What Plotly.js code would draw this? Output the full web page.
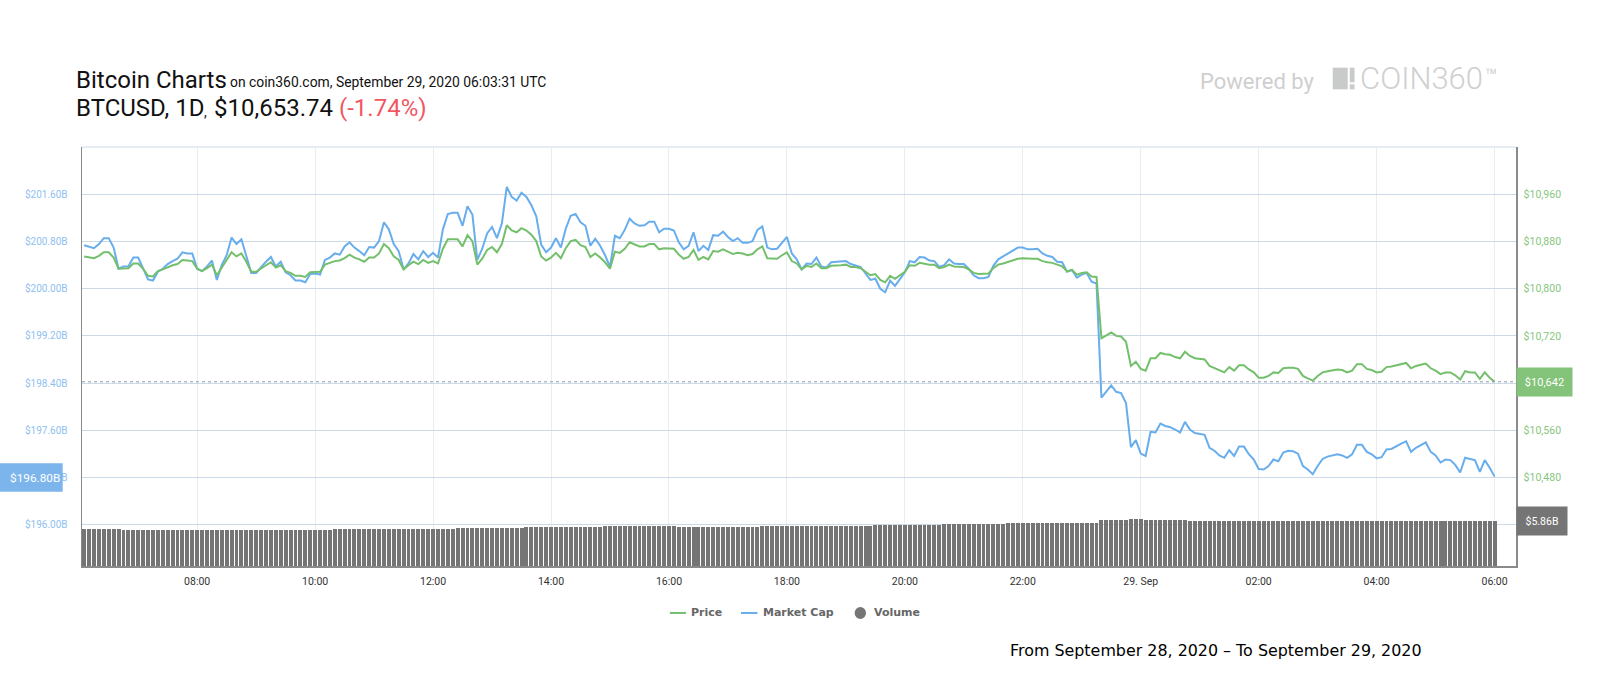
<!DOCTYPE html>
<html>
<head>
<meta charset="utf-8">
<script src="https://cdn.plot.ly/plotly-3.0.1.min.js"></script>
<style>html,body{margin:0;padding:0;background:#fff}#chart{width:1600px;height:700px}</style>
</head>
<body>
<div id="chart"></div>
<script>
const marketCap = [200.74,200.71,200.69,200.76,200.86,200.86,200.70,200.34,200.38,200.38,200.53,200.53,200.34,200.16,200.14,200.29,200.34,200.42,200.47,200.51,
200.62,200.60,200.60,200.34,200.30,200.38,200.48,200.15,200.40,200.57,200.87,200.76,200.84,200.57,200.27,200.27,200.37,200.46,200.54,200.38,
200.46,200.28,200.23,200.14,200.14,200.11,200.25,200.26,200.24,200.49,200.53,200.60,200.58,200.72,200.79,200.70,200.64,200.57,200.71,200.70,
200.81,201.13,201.01,200.76,200.64,200.33,200.43,200.59,200.50,200.64,200.54,200.61,200.53,201.01,201.27,201.29,201.29,201.07,201.40,201.26,
200.49,200.68,200.94,201.05,200.86,201.11,201.73,201.56,201.50,201.63,201.56,201.42,201.23,200.75,200.62,200.70,200.86,200.70,201.02,201.24,
201.27,201.13,201.07,200.73,200.85,200.73,200.57,200.37,200.90,200.86,201.00,201.19,201.11,201.07,201.08,201.14,201.14,200.96,201.02,201.02,
200.99,200.79,200.67,200.73,200.96,200.64,200.73,200.66,200.91,200.90,200.97,200.88,200.81,200.86,200.78,200.78,200.81,201.00,201.06,200.70,
200.67,200.68,200.78,200.88,200.60,200.50,200.33,200.43,200.42,200.53,200.38,200.36,200.45,200.46,200.47,200.47,200.42,200.40,200.37,200.26,
200.15,200.17,200.00,199.94,200.14,200.05,200.16,200.28,200.47,200.45,200.54,200.53,200.48,200.47,200.37,200.40,200.50,200.43,200.42,200.42,
200.34,200.23,200.18,200.18,200.20,200.39,200.50,200.55,200.61,200.66,200.70,200.70,200.67,200.67,200.68,200.60,200.56,200.54,200.46,200.45,
200.29,200.32,200.19,200.24,200.27,200.12,200.09,198.15,198.26,198.36,198.25,198.23,198.06,197.31,197.43,197.20,197.16,197.57,197.56,197.71,
197.67,197.65,197.61,197.56,197.74,197.61,197.55,197.53,197.52,197.30,197.25,197.17,197.13,197.26,197.16,197.32,197.32,197.19,197.10,196.94,
196.93,196.99,197.10,197.07,197.22,197.25,197.24,197.20,196.99,196.93,196.85,196.99,197.11,197.15,197.17,197.19,197.17,197.13,197.19,197.35,
197.35,197.23,197.19,197.12,197.14,197.27,197.28,197.33,197.37,197.41,197.23,197.30,197.34,197.39,197.23,197.17,197.05,197.10,197.09,197.01,
196.88,197.13,197.11,197.09,196.89,197.09,196.96,196.81];

const price = [10855,10854,10852,10856,10862,10862,10853,10834,10835,10835,10843,10843,10834,10822,10821,10830,10833,10837,10840,10842,
10849,10848,10847,10834,10830,10835,10841,10823,10836,10847,10862,10855,10860,10846,10829,10829,10835,10840,10845,10836,
10840,10830,10827,10822,10822,10820,10828,10829,10829,10841,10844,10847,10848,10852,10858,10853,10850,10846,10853,10853,
10860,10876,10869,10855,10849,10833,10840,10846,10842,10849,10844,10847,10843,10868,10884,10884,10884,10872,10891,10881,
10841,10851,10866,10871,10862,10876,10908,10899,10896,10903,10899,10892,10881,10855,10848,10853,10861,10852,10869,10881,
10883,10874,10871,10854,10860,10853,10845,10834,10863,10861,10868,10879,10875,10872,10872,10876,10876,10867,10869,10869,
10868,10858,10851,10854,10866,10849,10854,10850,10864,10863,10867,10863,10859,10861,10860,10857,10859,10867,10872,10852,
10851,10851,10857,10862,10847,10843,10833,10839,10837,10843,10835,10835,10839,10839,10840,10841,10837,10837,10835,10829,
10823,10825,10815,10811,10822,10817,10823,10829,10840,10839,10844,10842,10841,10841,10835,10837,10841,10838,10837,10837,
10833,10827,10825,10825,10826,10835,10841,10843,10846,10849,10851,10852,10851,10851,10851,10847,10845,10844,10841,10838,
10830,10832,10824,10827,10828,10821,10820,10716,10721,10726,10720,10719,10710,10669,10676,10664,10661,10682,10682,10691,
10689,10688,10684,10682,10693,10686,10682,10681,10680,10669,10665,10661,10658,10667,10661,10670,10670,10663,10658,10649,
10649,10652,10658,10657,10665,10666,10666,10664,10652,10648,10644,10652,10658,10660,10662,10663,10662,10658,10661,10672,
10672,10664,10662,10658,10659,10667,10668,10670,10672,10674,10665,10669,10671,10673,10665,10661,10655,10658,10658,10653,
10646,10660,10658,10658,10647,10658,10649,10642];

const volume = [4.82,4.82,4.82,4.82,4.82,4.82,4.82,4.82,
4.69,4.69,4.69,4.69,4.69,4.69,4.69,4.69,4.69,4.69,4.69,4.69,4.69,4.69,4.69,4.69,4.69,4.69,4.69,4.69,4.69,4.69,4.69,4.69,4.69,4.69,4.69,4.69,4.69,4.69,4.69,4.69,4.69,4.69,4.69,4.69,4.69,4.69,4.69,4.69,4.69,4.69,4.69,
4.82,4.82,4.82,4.82,4.82,4.82,4.82,4.82,4.82,4.82,4.82,4.82,4.82,4.82,4.82,4.82,
4.88,4.88,4.88,4.88,4.88,4.88,4.88,4.88,4.88,
4.95,4.95,4.95,4.95,4.95,
5.01,5.01,5.01,5.01,5.01,5.01,5.01,5.01,5.01,
5.08,5.08,5.08,5.08,5.08,5.08,5.08,5.08,5.08,5.08,5.08,5.08,5.08,5.08,5.08,5.08,
5.21,5.21,5.21,5.21,5.21,5.21,5.21,5.21,5.21,5.21,5.21,5.21,5.21,5.21,5.21,
5.08,5.08,5.08,5.08,5.08,5.08,5.08,5.08,5.08,5.08,5.08,5.08,5.08,5.08,5.08,5.08,5.08,
5.21,5.21,5.21,5.21,5.21,5.21,5.21,5.21,5.21,5.21,5.21,5.21,5.21,5.21,5.21,5.21,5.21,5.21,5.21,5.21,5.21,5.21,5.21,
5.34,5.34,5.34,5.34,5.34,5.34,5.34,5.34,5.34,5.34,5.34,5.34,5.34,5.34,
5.47,5.47,5.47,5.47,5.47,5.47,5.47,5.47,5.47,5.47,5.47,5.47,5.47,
5.60,5.60,5.60,5.60,5.60,5.60,5.60,5.60,5.60,5.60,5.60,5.60,5.60,5.60,5.60,5.60,5.60,5.60,5.60,
5.95,5.95,5.95,5.95,5.95,5.95,
6.08,6.08,6.08,
5.95,5.95,5.95,5.95,5.95,5.95,5.95,5.95,5.95,
5.86,5.86,5.86,5.86,5.86,5.86,5.86,5.86,5.86,5.86,5.86,5.86,5.86,5.86,5.86,5.86,5.86,5.86,5.86,5.86,5.86,5.86,5.86,5.86,5.86,5.86,5.86,5.86,5.86,5.86,5.86,5.86,5.86,5.86,5.86,5.86,5.86,5.86,5.86,5.86,5.86,5.86,5.86,5.86,5.86,5.86,5.86,5.86,5.86,5.86,5.86,5.86,5.86,5.86,5.86,5.86,5.86,5.86,5.86,5.86,5.86,5.86,5.86];

const xTickVals = ['2020-09-28 08:00','2020-09-28 10:00','2020-09-28 12:00','2020-09-28 14:00','2020-09-28 16:00','2020-09-28 18:00','2020-09-28 20:00','2020-09-28 22:00','2020-09-29 00:00','2020-09-29 02:00','2020-09-29 04:00','2020-09-29 06:00'];
const xTickText = ['08:00','10:00','12:00','14:00','16:00','18:00','20:00','22:00','29. Sep','02:00','04:00','06:00'];
const capTickVals = [196,196.8,197.6,198.4,199.2,200,200.8,201.6];
const capTickText = ['$196.00B','$196.80B','$197.60B','$198.40B','$199.20B','$200.00B','$200.80B','$201.60B'];
const priceTickVals = [10480,10560,10640,10720,10800,10880,10960];
const priceTickText = ['$10,480','$10,560','','$10,720','$10,800','$10,880','$10,960'];

const startMs = Date.UTC(2020, 8, 28, 6, 5);
const pad = n => String(n).padStart(2, '0');
const times = price.map((_, i) => {
  const d = new Date(startMs + i * 300000);
  return d.getUTCFullYear() + '-' + pad(d.getUTCMonth() + 1) + '-' + pad(d.getUTCDate()) + ' ' + pad(d.getUTCHours()) + ':' + pad(d.getUTCMinutes());
});

const L = 82.3, R = 1515.7, T = 146.7, B = 566;
const px = x => (x - L) / (R - L);
const py = y => (B - y) / (B - T);
const F = 'Roboto, sans-serif';
const GREEN = '#74bf6c', BLUE = '#68adec', GRAY = '#757575';

function label(text, x, y, size, color, extra) {
  return Object.assign({ text, xref: 'paper', yref: 'paper', x: px(x), y: py(y), xanchor: 'left', yanchor: 'middle',
    showarrow: false, font: { family: F, size, color }, borderpad: 0 }, extra || {});
}
function rect(x0, y0, x1, y1, color) {
  return { type: 'rect', xref: 'paper', yref: 'paper', x0: px(x0), x1: px(x1), y0: py(y0), y1: py(y1), fillcolor: color, line: { width: 0 } };
}
const LEG = { family: '"DejaVu Sans", sans-serif', size: 11, color: '#666', weight: 700 };

const traces = [
  { type: 'bar', name: 'Volume', x: times, y: volume, yaxis: 'y3', width: 240000, marker: { color: GRAY, line: { width: 0 } } },
  { type: 'scatter', mode: 'lines', name: 'Price', x: times, y: price, yaxis: 'y2', line: { color: GREEN, width: 2 } },
  { type: 'scatter', mode: 'lines', name: 'Market Cap', x: times, y: marketCap, yaxis: 'y', line: { color: BLUE, width: 2 } }
];

const layout = {
  width: 1600, height: 700, autosize: false, showlegend: false, hovermode: false,
  paper_bgcolor: '#fff', plot_bgcolor: '#fff', font: { family: F },
  margin: { l: L, r: 1600 - R, t: T, b: 700 - B, pad: 0 },
  xaxis: { type: 'date', range: ['2020-09-28 06:02:49', '2020-09-29 06:21:47'], tickmode: 'array', tickvals: xTickVals, ticktext: xTickText,
    tickangle: 0, showgrid: true, gridcolor: '#e6edf3', gridwidth: 1, zeroline: false, showline: true, linecolor: '#8a8a8a', linewidth: 2,
    ticks: 'outside', ticklen: 4, tickcolor: 'rgba(0,0,0,0)', tickfont: { family: F, size: 10.5, color: '#333' } },
  yaxis: { range: [195.292, 202.408], tickmode: 'array', tickvals: capTickVals, ticktext: capTickText, showgrid: true, gridcolor: '#ccd9e6', gridwidth: 1,
    zeroline: false, showline: true, linecolor: '#8a8a8a', linewidth: 1.5, ticks: 'outside', ticklen: 11, tickcolor: 'rgba(0,0,0,0)',
    tickfont: { family: F, size: 10, color: '#8fc1f0' } },
  yaxis2: { overlaying: 'y', side: 'right', range: [10329.2, 11040.8], tickmode: 'array', tickvals: priceTickVals, ticktext: priceTickText, showgrid: false,
    zeroline: false, showline: true, linecolor: '#8a8a8a', linewidth: 1.5, ticks: 'outside', ticklen: 4, tickcolor: 'rgba(0,0,0,0)',
    tickfont: { family: F, size: 10.5, color: '#86c67e' } },
  yaxis3: { overlaying: 'y', range: [0, 54.6], visible: false },
  bargap: 0,
  shapes: [
    { type: 'line', xref: 'paper', x0: 0, x1: 1, yref: 'paper', y0: 1, y1: 1, line: { color: '#ccd9e6', width: 1 }, layer: 'below' },
    { type: 'line', xref: 'paper', x0: 0, x1: 1, yref: 'y2', y0: 10642, y1: 10642, line: { color: '#8f9aa5', width: 1, dash: 'dot' } },
    rect(0, 463.3, 63, 491.7, '#7cb5ec'),
    rect(1332.5, 67.3, 1347.5, 89, '#c9cbca'),
    rect(1349.5, 67.3, 1354.3, 82, '#c9cbca'),
    rect(1349.5, 84, 1354.3, 89, '#c9cbca'),
    { type: 'line', xref: 'paper', yref: 'paper', x0: px(670), x1: px(686), y0: py(613), y1: py(613), line: { color: GREEN, width: 2 } },
    { type: 'line', xref: 'paper', yref: 'paper', x0: px(741), x1: px(757.5), y0: py(613), y1: py(613), line: { color: BLUE, width: 2 } },
    { type: 'circle', xref: 'paper', yref: 'paper', x0: px(854.6), x1: px(866), y0: py(607), y1: py(619), fillcolor: GRAY, line: { width: 0 } }
  ],
  annotations: [
    label('Bitcoin Charts', 75, 80, 24, '#111'),
    label('on coin360.com, September 29, 2020 06:03:31 UTC', 229, 82, 13.9, '#111'),
    label('BTCUSD, 1D', 75, 108, 24, '#111'),
    label(',', 203, 112, 14, '#111'),
    label('$10,653.74', 213.5, 108, 24, '#111'),
    label('(-1.74%)', 338, 108, 24, '#f0575f'),
    label('Powered by', 1198.5, 81, 22, '#cfcfcf'),
    label('COIN360', 1359, 78, 31, '#cfd0d0', { font: { family: F, size: 31, color: '#cfd0d0', weight: 300 } }),
    label('™', 1484, 76, 20, '#cfd0d0'),
    label('Price', 690.5, 613, 11, '#666', { font: LEG }),
    label('Market Cap', 762, 613, 11, '#666', { font: LEG }),
    label('Volume', 873, 613, 11, '#666', { font: LEG }),
    label('From September 28, 2020 – To September 29, 2020', 1008.5, 651, 16, '#000', { font: { family: '"DejaVu Sans", sans-serif', size: 15.9, color: '#000' } }),
    label('$196.80B', 9, 477.7, 11.8, '#fff'),
    { text: '$10,642', xref: 'paper', yref: 'y2', x: 1, y: 10642, xanchor: 'left', yanchor: 'middle', showarrow: false, width: 55, height: 28,
      bgcolor: '#83c37a', font: { family: F, size: 11, color: '#fff' }, borderpad: 0, align: 'center' },
    { text: '$5.86B', xref: 'paper', yref: 'y3', x: 1, y: 5.86, xanchor: 'left', yanchor: 'middle', showarrow: false, width: 50, height: 28,
      bgcolor: GRAY, font: { family: F, size: 10.5, color: '#fff' }, borderpad: 0, align: 'center' }
  ]
};

Plotly.newPlot('chart', traces, layout, { displayModeBar: false, staticPlot: true });
</script>
</body>
</html>
